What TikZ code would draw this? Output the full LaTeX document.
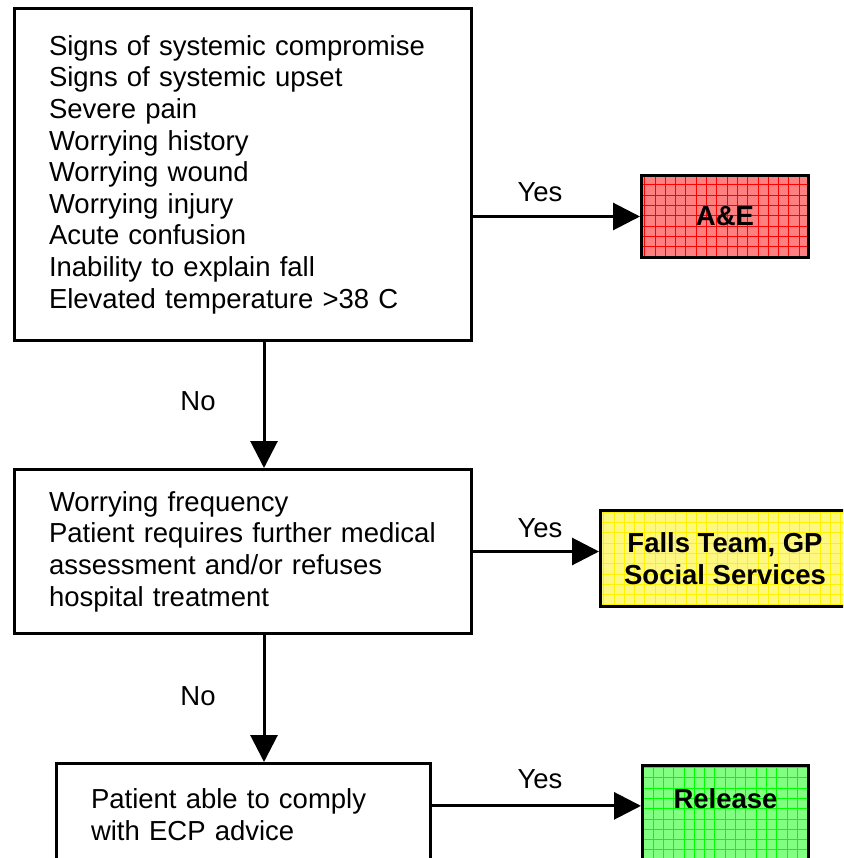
\documentclass[tikz,border=0pt]{standalone}
\usepackage{fontspec}
\setmainfont{Liberation Sans}
\usetikzlibrary{arrows.meta,positioning}

\tikzset{
  txt/.style={font=\fontsize{27.5}{31.6}\selectfont},
  box/.style={txt, draw, line width=3pt, align=left, inner xsep=34.5pt},
  outcome/.style={draw, line width=3pt, align=center, font=\fontsize{27.5}{31.6}\selectfont\bfseries},
  gridfill/.style={fill=#1!50,
    path picture={\draw[#1, line width=0.5pt, step=10.3pt]
      (path picture bounding box.south west) grid (path picture bounding box.north east);}},
  arr/.style={line width=3pt, -{Triangle[length=27pt,width=27pt]}}
}

\begin{document}
\begin{tikzpicture}[x=1pt, y=-1pt]
  \clip (0,0) rectangle (843,858);

  % question boxes
  \node[box, text width=388pt, minimum height=332pt] (signs) at (243,174.5)
    {Signs of systemic compromise\\
     Signs of systemic upset\\
     Severe pain\\
     Worrying history\\
     Worrying wound\\
     Worrying injury\\
     Acute confusion\\
     Inability to explain fall\\
     Elevated temperature >38 C};

  \node[box, text width=388pt, minimum height=164pt] (freq) at (243,551.5)
    {Worrying frequency\\
     Patient requires further medical\\
     assessment and/or refuses\\
     hospital treatment};

  \node[box, text width=305pt, minimum height=102pt] (comply) at (243.5,814.5)
    {Patient able to comply\\
     with ECP advice};

  % outcome boxes
  \node[outcome, gridfill=red, minimum width=167pt, minimum height=82pt] (ae) at (725,216.5) {A\&E};
  \node[outcome, gridfill=yellow, minimum width=249pt, minimum height=96pt] (falls) at (725,558.5)
    {Falls Team, GP\\ Social Services};
  \node[outcome, gridfill=green, minimum width=166pt, inner ysep=0pt,
        text height=43.5pt, text depth=80pt, anchor=north] (release) at (725.5,763.5) {Release};

  % connectors
  \coordinate (spine) at (264,0);
  \draw[arr] (signs.east |- ae.west) -- (ae.west);
  \draw[arr] (freq.east) -- (freq.east -| falls.west);
  \draw[arr] (comply.east |- release.mid west) -- (release.mid west);
  \draw[arr] (signs.south -| spine) -- (freq.north -| spine);
  \draw[arr] (freq.south -| spine) -- (comply.north -| spine);

  % labels
  \node[txt, anchor=base] (yes1) at (540,202) {Yes};
  \node[txt, anchor=base] (yes2) at (540,537) {Yes};
  \node[txt, anchor=base] (yes3) at (540,788) {Yes};
  \node[txt, anchor=base] (no1) at (198,410) {No};
  \node[txt, anchor=base] (no2) at (198,705) {No};
\end{tikzpicture}
\end{document}
